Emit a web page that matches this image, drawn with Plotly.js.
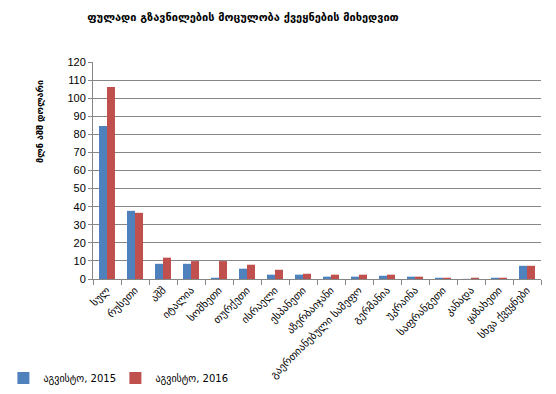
<!DOCTYPE html>
<html>
<head>
<meta charset="utf-8">
<script src="https://cdn.plot.ly/plotly-3.0.1.min.js"></script>
<style>html,body{margin:0;padding:0;background:#fff;}#chart{width:556px;height:394px;}</style>
</head>
<body>
<div id="chart"></div>
<script>
const categories = ["სულ","რუსეთი","აშშ","იტალია","სომხეთი","თურქეთი","ისრაელი","ესპანეთი","აზერბაიჯანი","გაერთიანებული სამეფო","გერმანია","უკრაინა","საფრანგეთი","კანადა","ყაზახეთი","სხვა ქვეყნები"];
const values2015 = [84.6, 37.7, 8.4, 8.4, 0.7, 5.7, 2.4, 2.4, 1.3, 1.3, 1.8, 1.3, 0.7, 0.1, 0.7, 7.3];
const values2016 = [106.2, 36.6, 11.8, 9.9, 9.9, 7.9, 5.1, 2.9, 2.4, 2.4, 2.4, 1.3, 0.7, 0.7, 0.7, 7.3];
const seriesNames = ["აგვისტო, 2015", "აგვისტო, 2016"];
const yTicks = [0,10,20,30,40,50,60,70,80,90,100,110,120];

const geo = "DejaVu Sans, Noto Sans, sans-serif";
const data = [
  {type:"bar", x:categories, y:values2015, name:seriesNames[0], marker:{color:"#4F81BD"}, legend:"legend"},
  {type:"bar", x:categories, y:values2016, name:seriesNames[1], marker:{color:"#C0504D"}, legend:"legend2"}
];
const legendBase = {orientation:"h", xanchor:"left", y:-0.456, yanchor:"middle", bgcolor:"rgba(0,0,0,0)",
          font:{family:geo, size:10, color:"#000"}, itemwidth:30, tracegroupgap:0};
const layout = {
  width:556, height:394,
  margin:{l:93, r:15, t:62, b:115, autoexpand:false},
  paper_bgcolor:"#fff", plot_bgcolor:"#fff",
  barmode:"group", bargap:0.43, bargroupgap:0,
  showlegend:true,
  title:{text:"ფულადი გზავნილების მოცულობა ქვეყნების მიხედვით", font:{family:geo, size:11, color:"#000", weight:"bold"}, x:243/556, xanchor:"center", y:1-17/394, yanchor:"middle"},
  xaxis:{type:"category", tickangle:-45, tickson:"boundaries", ticks:"outside", ticklen:5, tickcolor:"#868686",
         showline:true, linecolor:"#868686", linewidth:1, showgrid:false,
         tickfont:{family:geo, size:10.5, color:"#000"}, automargin:false},
  yaxis:{range:[0,120], tickvals:yTicks, ticks:"outside", ticklen:4, tickcolor:"#868686",
         showline:true, linecolor:"#868686", gridcolor:"#868686", gridwidth:1, zeroline:false,
         tickfont:{family:"Liberation Sans, Arial, sans-serif", size:11, color:"#000"}, automargin:false},
  legend:Object.assign({}, legendBase, {x:-0.2}),
  legend2:Object.assign({}, legendBase, {x:0.05}),
  annotations:[{text:"მლნ აშშ დოლარი", textangle:-90, xref:"paper", yref:"paper",
    x:(40-93)/448, xanchor:"center", y:(279-122)/217, yanchor:"middle", showarrow:false,
    font:{family:geo, size:9, color:"#000", weight:"bold"}}]
};
Plotly.newPlot("chart", data, layout, {displayModeBar:false, staticPlot:true});
</script>
</body>
</html>
